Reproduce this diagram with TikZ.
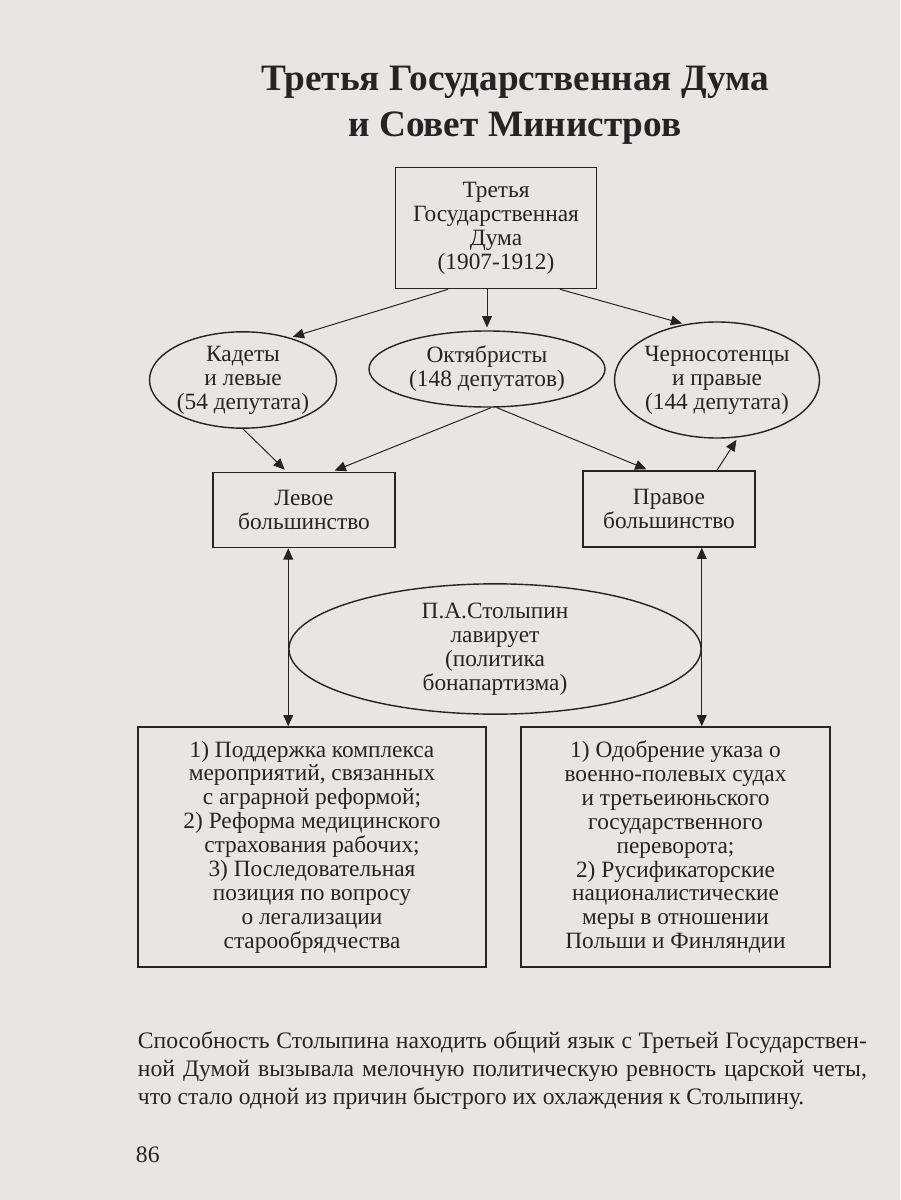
\documentclass[tikz,border=0pt]{standalone}
\usepackage{fontspec}
\setmainfont{Liberation Serif}
\usetikzlibrary{arrows.meta,shapes.geometric}
\definecolor{paper}{RGB}{234,229,226}
\definecolor{ink}{RGB}{40,35,35}

\begin{document}
\begin{tikzpicture}[x=0.025cm,y=-0.025cm,
  every node/.style={text=ink,align=center,font=\fontsize{16.6}{17}\selectfont},
  blk/.style={draw=ink,line width=1pt,inner sep=0pt},
  oval/.style={ellipse,draw=ink,line width=1pt,inner sep=0pt},
  arr/.style={-{Triangle[length=8pt,width=7pt]},draw=ink,line width=0.7pt,shorten >=2pt},
  darr/.style={{Triangle[length=8pt,width=7pt]}-{Triangle[length=8pt,width=7pt]},draw=ink,line width=0.7pt}]
  \fill[paper] (0,0) rectangle (900,1200);
  \node[font=\fontsize{26.5}{33}\selectfont\bfseries] (title) at (515,105) {Третья Государственная Дума\\и Совет Министров};
  \node[blk,minimum width=5.03cm,minimum height=3.03cm] (duma) at (496,228) {Третья\\Государственная\\Дума\\(1907-1912)};
  \node[oval,minimum width=4.5cm,minimum height=2.3cm] (kadety) at (243,380) {Кадеты\\и левые\\(54 депутата)};
  \node[oval,minimum width=5.9cm,minimum height=1.9cm] (okt) at (487,369) {Октябристы\\(148 депутатов)};
  \node[oval,minimum width=5cm,minimum height=2.9cm] (cherno) at (717,380) {Черносотенцы\\и правые\\(144 депутата)};
  \node[blk,minimum width=4.55cm,minimum height=1.88cm] (lev) at (304,510) {Левое\\большинство};
  \node[blk,minimum width=4.3cm,minimum height=1.9cm] (prav) at (669,509) {Правое\\большинство};
  \node[oval,minimum width=10.3cm,minimum height=2.95cm] (stol) at (495,649) {П.А.Столыпин\\лавирует\\(политика\\бонапартизма)};
  \node[blk,minimum width=8.7cm,minimum height=6cm] (levprog) at (312,847) {1) Поддержка комплекса\\мероприятий, связанных\\с аграрной реформой;\\2) Реформа медицинского\\страхования рабочих;\\3) Последовательная\\позиция по вопросу\\о легализации\\старообрядчества};
  \node[blk,minimum width=7.73cm,minimum height=6cm] (pravprog) at (675.5,847) {1) Одобрение указа о\\военно-полевых судах\\и третьеиюньского\\государственного\\переворота;\\2) Русификаторские\\националистические\\меры в отношении\\Польши и Финляндии};
  \draw[arr] ([xshift=-1.2cm]duma.south) -- (kadety.42);
  \draw[arr] (duma.south -| okt.north) -- (okt.north);
  \draw[arr] ([xshift=1.6cm]duma.south) -- (cherno.120);
  \draw[arr] (kadety.south) -- ([xshift=-0.43cm]lev.north);
  \draw[arr] (okt.-84) -- ([xshift=0.7cm]lev.north);
  \draw[arr] (okt.-76) -- ([xshift=-0.5cm]prav.north);
  \draw[arr] ([xshift=1.2cm]prav.north) -- (cherno.-70);
  \draw[darr] (lev.south -| stol.west) -- (levprog.north -| stol.west);
  \draw[darr] (prav.south -| stol.east) -- (pravprog.north -| stol.east);
  \node[anchor=north west,text width=18.22cm,align=justify,font=\fontsize{16.8}{19.6}\selectfont] (note) at (133,1027) {Способность Столыпина находить общий язык с Третьей Государствен-\linebreak ной Думой вызывала мелочную политическую ревность царской четы,\linebreak что стало одной из причин быстрого их охлаждения к Столыпину.};
  \node[anchor=west,font=\fontsize{16.8}{19.6}\selectfont] (page) at (131,1155) {86};
\end{tikzpicture}
\end{document}
